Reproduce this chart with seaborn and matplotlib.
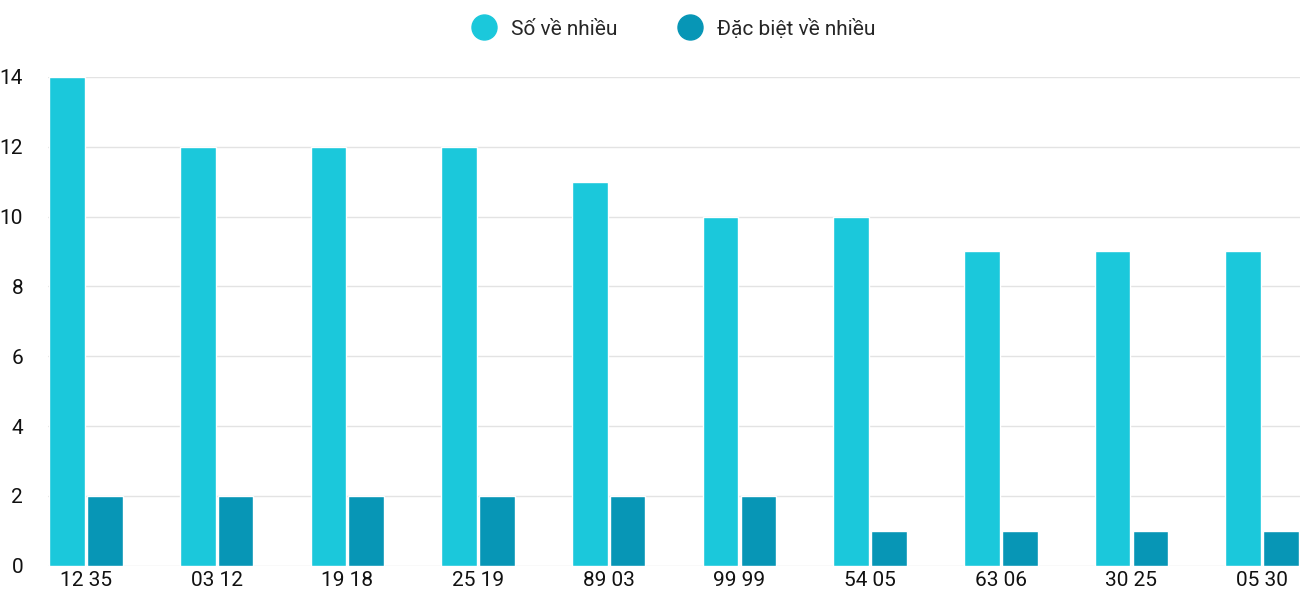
import matplotlib
matplotlib.use("Agg")
import matplotlib.pyplot as plt
import seaborn as sns
import pandas as pd
from matplotlib.lines import Line2D

categories = ["12 35", "03 12", "19 18", "25 19", "89 03", "99 99", "54 05", "63 06", "30 25", "05 30"]
so_ve_nhieu = [14, 12, 12, 12, 11, 10, 10, 9, 9, 9]
dac_biet = [2, 2, 2, 2, 2, 2, 1, 1, 1, 1]
series = ["Số về nhiều", "Đặc biệt về nhiều"]
colors = ["#1bc8db", "#0796b6"]

sns.set_theme(style="white")
plt.rcParams['font.family'] = ['Roboto', 'DejaVu Sans']

df = pd.DataFrame({
    "cat": categories * 2,
    "val": so_ve_nhieu + dac_biet,
    "series": [series[0]] * len(categories) + [series[1]] * len(categories),
})

fig = plt.figure(figsize=(13, 6), dpi=100)
ax = fig.add_axes([0.037, 0.057, 0.963, 0.815])
sns.barplot(data=df, x="cat", y="val", hue="series", palette=colors, width=0.58, gap=0.06,
            ax=ax, legend=False, saturation=1)
ax.set_xlim(-0.29, 9.29)
ax.set_ylim(0, 14)
ax.set_yticks(range(0, 15, 2))
ax.yaxis.grid(True, color="#e3e3e3", linewidth=1)
ax.set_axisbelow(True)
for s in ax.spines.values():
    s.set_visible(False)
ax.set_xlabel("")
ax.set_ylabel("")
ax.tick_params(axis="both", labelsize=15, colors="#111111", length=0)
ax.tick_params(axis="y", pad=18)
ax.tick_params(axis="x", pad=4)

handles = [Line2D([], [], marker="o", linestyle="", markersize=18, color=c) for c in colors]
fig.legend(handles, series, loc="upper center", bbox_to_anchor=(0.515, 1.0), ncol=2,
           frameon=False, fontsize=15, handletextpad=0.3, columnspacing=2.5)
fig.savefig("out.png", dpi=100)
